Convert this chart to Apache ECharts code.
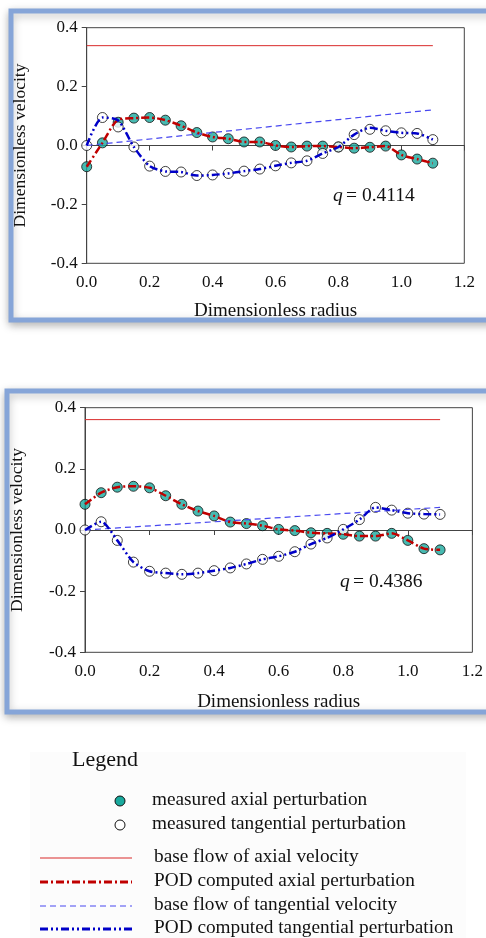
<!DOCTYPE html>
<html><head><meta charset="utf-8">
<script src="https://cdn.jsdelivr.net/npm/echarts@6/dist/echarts.min.js"></script>
<style>html,body{margin:0;padding:0;background:#fff}#c{width:486px;height:938px}</style>
</head><body><div id="c"></div>
<script>
// ---- data ----
const radius = [0,0.05,0.1,0.15,0.2,0.25,0.3,0.35,0.4,0.45,0.5,0.55,0.6,0.65,0.7,0.75,0.8,0.85,0.9,0.95,1.0,1.05,1.1];
const xTicks = [0.0,0.2,0.4,0.6,0.8,1.0,1.2];
const yTicks = [-0.4,-0.2,0.0,0.2,0.4];

// panel 1 (q = 0.4114)
const q1 = '0.4114';
const axialMeas1 = [-0.072,0.009,0.079,0.093,0.095,0.086,0.067,0.044,0.029,0.023,0.012,0.012,0.0,-0.005,-0.002,-0.002,-0.005,-0.009,-0.006,-0.002,-0.032,-0.046,-0.060];
const tangMeas1  = [0.0,0.095,0.063,-0.005,-0.070,-0.088,-0.090,-0.102,-0.100,-0.095,-0.087,-0.080,-0.069,-0.059,-0.052,-0.027,-0.005,0.037,0.055,0.050,0.043,0.041,0.020];
const axialPOD1  = [-0.072,0.009,0.088,0.093,0.095,0.086,0.067,0.044,0.029,0.023,0.012,0.012,0.0,-0.005,-0.002,-0.002,-0.005,-0.009,-0.006,-0.002,-0.032,-0.046,-0.060];
const tangPOD1   = [0.0,0.095,0.085,-0.005,-0.070,-0.088,-0.090,-0.102,-0.100,-0.095,-0.087,-0.080,-0.069,-0.059,-0.052,-0.027,-0.005,0.037,0.060,0.050,0.043,0.041,0.020];
const baseAxial1 = [[0,0.339],[1.1,0.339]];
const baseTang1  = [[0,0.0],[1.1,0.121]];

// panel 2 (q = 0.4386)
const q2 = '0.4386';
const axialMeas2 = [0.084,0.122,0.140,0.143,0.138,0.112,0.084,0.062,0.046,0.026,0.021,0.014,0.002,-0.002,-0.009,-0.011,-0.014,-0.020,-0.020,-0.011,-0.034,-0.061,-0.065];
const tangMeas2  = [0.0,0.027,-0.034,-0.105,-0.135,-0.141,-0.145,-0.141,-0.133,-0.124,-0.111,-0.096,-0.086,-0.071,-0.046,-0.026,0.002,0.034,0.074,0.065,0.055,0.052,0.051];
const axialPOD2  = [0.084,0.122,0.140,0.143,0.138,0.112,0.084,0.062,0.046,0.026,0.021,0.014,0.002,-0.002,-0.009,-0.011,-0.014,-0.020,-0.020,-0.011,-0.034,-0.061,-0.065];
const tangPOD2   = [0.0,0.027,-0.034,-0.105,-0.135,-0.141,-0.145,-0.141,-0.133,-0.124,-0.111,-0.096,-0.086,-0.071,-0.046,-0.026,0.002,0.034,0.074,0.065,0.055,0.052,0.051];
const baseAxial2 = [[0,0.361],[1.1,0.361]];
const baseTang2  = [[0,0.0],[1.1,0.074]];

const legendNames = ['measured axial perturbation','measured tangential perturbation','base flow of axial velocity','POD computed axial perturbation','base flow of tangential velocity','POD computed tangential perturbation'];

// ---- styles ----
const FONT = 'Liberation Serif';
const TEAL = '#19a99d';
const RED_BASE = '#d92b2b', RED_POD = '#c00000', BLUE_BASE = '#4848f0', BLUE_POD = '#0000c8';
const DASHDOT = [8,3,2,3];
const DASHDOTDOT = [8,3,2,3,2,3];

const pair = (ys) => ys.map((y,i)=>[radius[i], y]);

function axesFor(idx, nameGapX, nameGapY){
  return {
    x: {
      type:'value', gridIndex: idx, min:0, max:1.2, interval:0.2,
      name:'Dimensionless radius', nameLocation:'middle', nameGap:nameGapX,
      nameTextStyle:{fontFamily:FONT, fontSize:19, color:'#111'},
      axisLine:{lineStyle:{color:'#444', width:1}},
      axisTick:{show:true, length:5, lineStyle:{color:'#444'}},
      axisLabel:{fontFamily:FONT, fontSize:17, color:'#111', margin:11, formatter:v=>v.toFixed(1)},
      splitLine:{show:false}
    },
    y: {
      type:'value', gridIndex: idx, min:-0.4, max:0.4, interval:0.2,
      name:'Dimensionless velocity', nameLocation:'middle', nameGap:nameGapY,
      nameTextStyle:{fontFamily:FONT, fontSize:17.5, color:'#111'},
      axisLine:{show:true, lineStyle:{color:'#444', width:1}},
      axisTick:{show:true, length:5, lineStyle:{color:'#444'}},
      axisLabel:{fontFamily:FONT, fontSize:17, color:'#111', margin:9, formatter:v=>v.toFixed(1)},
      splitLine:{show:false}
    }
  };
}

function seriesFor(idx, baseA, podA, baseT, podT, measA, measT){
  const common = {xAxisIndex:idx, yAxisIndex:idx, animation:false};
  return [
    Object.assign({type:'line', name:legendNames[2], data:baseA, showSymbol:false, symbol:'none',
      lineStyle:{color:RED_BASE, width:1}}, common),
    Object.assign({type:'line', name:legendNames[4], data:baseT, showSymbol:false, symbol:'none',
      lineStyle:{color:BLUE_BASE, width:1.2, type:[6,4]}}, common),
    Object.assign({type:'line', name:legendNames[3], data:pair(podA), showSymbol:false, symbol:'none', smooth:0.25,
      lineStyle:{color:RED_POD, width:2.5, type:DASHDOT}}, common),
    Object.assign({type:'line', name:legendNames[5], data:pair(podT), showSymbol:false, symbol:'none', smooth:0.25,
      lineStyle:{color:BLUE_POD, width:2.5, type:DASHDOTDOT}}, common),
    Object.assign({type:'scatter', name:legendNames[0], data:pair(measA), symbol:'circle', symbolSize:10,
      itemStyle:{color:TEAL, borderColor:'#111', borderWidth:1}}, common),
    Object.assign({type:'scatter', name:legendNames[1], data:pair(measT), symbol:'circle', symbolSize:10,
      itemStyle:{color:'#fff', borderColor:'#111', borderWidth:1}}, common)
  ];
}

const a1 = axesFor(0, 38, 57);
const a2 = axesFor(1, 40, 59);

// legend graphics
const legendG = [];
legendG.push({type:'rect', z:-11, shape:{x:30, y:752, width:436, height:186}, style:{fill:'#fcfcfc'}});
legendG.push({type:'text', left:72, top:749, style:{text:'Legend', font:'22px "Liberation Serif"', fill:'#111'}});
const rowsY = [801, 825, 858, 882, 906, 929];
legendG.push({type:'circle', shape:{cx:120, cy:rowsY[0], r:5}, style:{fill:TEAL, stroke:'#111', lineWidth:1}});
legendG.push({type:'circle', shape:{cx:120, cy:rowsY[1], r:5}, style:{fill:'#fff', stroke:'#111', lineWidth:1}});
legendG.push({type:'line', shape:{x1:40,y1:rowsY[2],x2:132,y2:rowsY[2]}, style:{stroke:RED_BASE, lineWidth:1}});
legendG.push({type:'line', shape:{x1:40,y1:rowsY[3],x2:132,y2:rowsY[3]}, style:{stroke:RED_POD, lineWidth:3, lineDash:DASHDOT}});
legendG.push({type:'line', shape:{x1:40,y1:rowsY[4],x2:132,y2:rowsY[4]}, style:{stroke:BLUE_BASE, lineWidth:1, lineDash:[6,4]}});
legendG.push({type:'line', shape:{x1:40,y1:rowsY[5],x2:132,y2:rowsY[5]}, style:{stroke:BLUE_POD, lineWidth:3, lineDash:DASHDOTDOT}});
legendNames.forEach((n,i)=>{
  legendG.push({type:'text', left: i<2 ? 152 : 154, top: rowsY[i]-11, style:{text:n, font:'19.3px "Liberation Serif"', fill:'#111'}});
});

const qStyle = {i:{font:'italic 19.5px "Liberation Serif"', fill:'#111'}, n:{font:'19.5px "Liberation Serif"', fill:'#111'}};
const panels = [
  {type:'rect', z:-10, shape:{x:11, y:11, width:490, height:309}, style:{fill:'#fff', stroke:'#86a5d8', lineWidth:5, shadowBlur:8, shadowColor:'rgba(0,0,0,0.25)', shadowOffsetY:3}},
  {type:'rect', z:-10, shape:{x:7, y:391, width:494, height:321}, style:{fill:'#fff', stroke:'#86a5d8', lineWidth:5, shadowBlur:8, shadowColor:'rgba(0,0,0,0.25)', shadowOffsetY:3}},
  {type:'text', z:5, left:333, top:186, style:{rich:qStyle, text:'{i|q} {n|= '+q1+'}'}},
  {type:'text', z:5, left:340, top:572, style:{rich:qStyle, text:'{i|q} {n|= '+q2+'}'}}
];

const chart = echarts.init(document.getElementById('c'), null, {renderer:'canvas'});
chart.setOption({
  animation:false,
  backgroundColor:'#fff',
  grid:[
    {left:86.7, top:27.7, width:377.6, height:235.6, show:true, borderColor:'#444', borderWidth:1, backgroundColor:'transparent'},
    {left:85, top:407.7, width:389, height:244.6, show:true, borderColor:'#444', borderWidth:1, backgroundColor:'transparent'}
  ],
  xAxis:[a1.x, a2.x],
  yAxis:[a1.y, a2.y],
  series:[].concat(
    seriesFor(0, baseAxial1, axialPOD1, baseTang1, tangPOD1, axialMeas1, tangMeas1),
    seriesFor(1, baseAxial2, axialPOD2, baseTang2, tangPOD2, axialMeas2, tangMeas2)
  ),
  graphic: panels.concat(legendG)
});
</script></body></html>
